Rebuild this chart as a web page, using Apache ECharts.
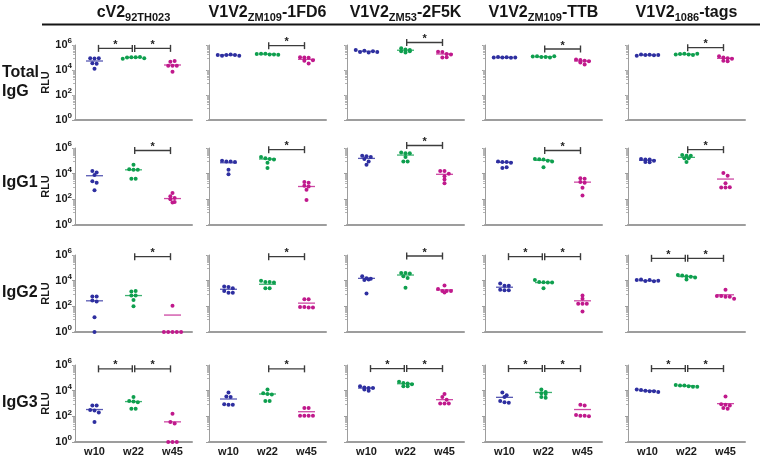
<!DOCTYPE html>
<html><head><meta charset="utf-8">
<script src="https://cdn.jsdelivr.net/npm/echarts@6/dist/echarts.min.js"></script>
<style>html,body{margin:0;padding:0;background:#fff}#c{width:760px;height:457px}</style>
</head><body><div id="c"></div>
<script>
// ---------- categories / labels ----------
const weeks = ['w10', 'w22', 'w45'];
const isotypes = ['Total\nIgG', 'IgG1', 'IgG2', 'IgG3'];
const antigenMain = ['cV2', 'V1V2', 'V1V2', 'V1V2', 'V1V2'];
const antigenSub = ['92TH023', 'ZM109', 'ZM53', 'ZM109', '1086'];
const antigenSuffix = ['', '-1FD6', '-2F5K', '-TTB', '-tags'];
const yTickExponents = [0, 2, 4, 6];

// ---------- values: log10(RLU) per animal, [w10, w22, w45] ----------
// Total IgG
const totIgG_cV2  = [[4.95,4.93,4.95,4.55,4.5,4.1],[4.9,5.0,5.02,5.03,5.05,4.95],[4.67,4.72,4.35,4.35,4.35,3.87]];
const totIgG_1FD6 = [[5.2,5.15,5.2,5.25,5.2,5.15],[5.28,5.3,5.3,5.25,5.25,5.22],[5.02,5.0,4.98,4.78,4.75,4.53]];
const totIgG_2F5K = [[5.6,5.45,5.55,5.4,5.5,5.45],[5.75,5.5,5.65,5.4,5.6,5.5],[5.47,5.45,5.28,5.25,5.0,5.02]];
const totIgG_TTB  = [[5.0,5.05,5.0,5.02,4.98,5.0],[5.08,5.1,5.05,5.05,5.0,5.1],[4.85,4.8,4.75,4.7,4.6,4.45]];
const totIgG_tags = [[5.15,5.25,5.2,5.22,5.18,5.2],[5.25,5.28,5.3,5.25,5.2,5.3],[5.1,5.0,4.95,4.9,4.75,4.7]];
// IgG1
const igg1_cV2  = [[4.2,4.1,3.9,3.4,3.3,2.7],[4.7,4.35,4.3,4.3,3.6,3.6],[2.5,2.25,2.1,2.0,1.75,1.8]];
const igg1_1FD6 = [[5.0,4.95,4.95,4.9,4.3,3.95],[5.3,5.2,5.15,5.1,4.85,4.45],[3.35,3.3,3.05,3.0,2.75,1.95]];
const igg1_2F5K = [[5.4,5.35,5.3,5.15,4.95,4.7],[5.65,5.6,5.6,5.3,4.95,4.95],[4.2,4.2,4.0,3.8,3.55,3.25]];
const igg1_TTB  = [[4.95,4.9,4.9,4.85,4.45,4.5],[5.15,5.12,5.1,5.0,4.95,4.5],[3.65,3.6,3.35,3.3,2.9,2.3]];
const igg1_tags = [[5.15,5.1,5.1,5.0,4.9,4.88],[5.45,5.4,5.4,5.2,5.2,4.9],[4.05,3.84,3.26,2.92,2.92,2.95]];
// IgG2
const igg2_cV2  = [[2.77,2.77,2.45,2.38,1.14,0],[3.15,3.2,2.84,2.84,2.5,2.0],[2.04,0,0,0,0,0]];
const igg2_1FD6 = [[3.55,3.5,3.4,3.2,3.05,3.05],[4.0,3.9,3.9,3.85,3.4,3.4],[2.55,2.55,1.95,1.95,1.9,1.9]];
const igg2_2F5K = [[4.35,4.18,4.15,4.05,4.1,3.0],[4.6,4.6,4.55,4.35,4.2,3.45],[3.62,3.35,3.2,3.2,3.2,3.07]];
const igg2_TTB  = [[3.78,3.6,3.6,3.3,3.25,3.25],[4.06,3.9,3.88,3.86,3.85,3.4],[2.85,2.6,2.2,2.2,2.2,1.6]];
const igg2_tags = [[4.05,4.1,3.98,4.05,3.95,4.0],[4.45,4.4,4.35,4.3,4.1,4.25],[3.3,2.8,2.8,2.75,2.75,2.6]];
// IgG3
const igg3_cV2  = [[2.85,2.85,2.5,2.45,2.3,1.55],[3.5,3.2,3.15,3.1,2.6,2.6],[2.2,1.55,1.45,0,0,0]];
const igg3_1FD6 = [[3.85,3.55,3.5,2.95,2.9,2.9],[4.1,3.8,3.75,3.7,3.2,3.2],[2.65,2.65,2.05,2.05,2.05,2.05]];
const igg3_2F5K = [[4.35,4.25,4.2,4.2,4.1,4.0],[4.7,4.6,4.55,4.5,4.35,4.35],[3.75,3.5,3.3,3.0,3.0,3.0]];
const igg3_TTB  = [[3.85,3.65,3.5,3.2,3.1,3.05],[4.1,3.9,3.8,3.75,3.5,3.45],[2.9,2.85,2.1,2.05,2.05,2.0]];
const igg3_tags = [[4.1,4.05,4.0,3.95,3.95,3.9],[4.45,4.4,4.4,4.35,4.3,4.3],[3.55,2.95,2.9,2.85,2.65,2.6]];

// ---------- group mean lines, log10(RLU), [w10, w22, w45] ----------
const meanTot  = [[4.72,5.0,4.4],[5.2,5.27,4.85],[5.5,5.58,5.28],[5.0,5.06,4.72],[5.2,5.26,4.93]];
const meanIgG1 = [[3.84,4.3,2.06],[4.85,5.14,3.0],[5.19,5.45,3.95],[4.88,5.04,3.34],[5.04,5.27,3.58]];
const meanIgG2 = [[2.43,2.84,1.32],[3.33,3.72,2.25],[4.18,4.44,3.28],[3.49,3.85,2.43],[4.0,4.32,2.9]];
const meanIgG3 = [[2.53,3.15,1.57],[3.35,3.74,2.36],[4.2,4.54,3.3],[3.48,3.86,2.53],[4.0,4.38,2.99]];

// ---------- significance (p<0.05) comparisons: [fromWeek, toWeek] ----------
const sigTot  = [[[0,1],[1,2]], [[1,2]], [[1,2]], [[1,2]], [[1,2]]];
const sigIgG1 = [[[1,2]], [[1,2]], [[1,2]], [[1,2]], [[1,2]]];
const sigIgG2 = [[[1,2]], [[1,2]], [[1,2]], [[0,1],[1,2]], [[0,1],[1,2]]];
const sigIgG3 = [[[0,1],[1,2]], [[1,2]], [[0,1],[1,2]], [[0,1],[1,2]], [[0,1],[1,2]]];
// bracket height, log10(RLU)
const sigLevelTot  = [5.73, 5.95, 6.2, 5.68, 5.79];
const sigLevelIgG1 = [5.8, 5.87, 6.2, 5.8, 5.87];
const sigLevelIgG2 = [5.87, 5.87, 5.92, 5.87, 5.74];
const sigLevelIgG3 = [5.7, 5.7, 5.72, 5.72, 5.72];

// ---------- assemble ----------
const panelValues = [
  [totIgG_cV2, totIgG_1FD6, totIgG_2F5K, totIgG_TTB, totIgG_tags],
  [igg1_cV2, igg1_1FD6, igg1_2F5K, igg1_TTB, igg1_tags],
  [igg2_cV2, igg2_1FD6, igg2_2F5K, igg2_TTB, igg2_tags],
  [igg3_cV2, igg3_1FD6, igg3_2F5K, igg3_TTB, igg3_tags]
];
const panelMeans = [meanTot, meanIgG1, meanIgG2, meanIgG3];
const panelSig = [sigTot, sigIgG1, sigIgG2, sigIgG3];
const panelSigLevel = [sigLevelTot, sigLevelIgG1, sigLevelIgG2, sigLevelIgG3];

// ---------- layout & style ----------
const FONT = '"Liberation Sans", Arial, sans-serif';
const groupColors = ['#2E2FA0', '#0E9F4E', '#C0198C'];
const colLeft = [75, 209, 347, 485, 628];
const colWidth = 117;
const rowTop = [45, 148, 255, 365];
const rowBottom = [120, 225, 332, 443];
const rowLabelY = [82, 183, 293, 403];
const AXIS_GRAY = '#9d9d9d';
const DOT_R = 2.0, DOT_SPACING = 4.3, ROW_SPAN = 3, MEAN_HALF = 8.5;

const pow10 = e => Math.pow(10, e);

function makeDotRenderer(vals) {
  return function (params, api) {
    const g = params.dataIndex;
    const arr = vals[g];
    const color = groupColors[g];
    const cx = api.coord([g, 1])[0];
    const pts = arr.map((v, k) => ({ k: k, y: api.coord([g, pow10(v)])[1] }));
    const sorted = pts.slice().sort((a, b) => a.y - b.y);
    const clusters = [];
    let cur = [sorted[0]];
    for (let i = 1; i < sorted.length; i++) {
      if (sorted[i].y - cur[0].y <= ROW_SPAN) cur.push(sorted[i]);
      else { clusters.push(cur); cur = [sorted[i]]; }
    }
    clusters.push(cur);
    const children = [];
    const my = api.coord([g, api.value(1)])[1];
    children.push({ type: 'line', shape: { x1: cx - MEAN_HALF, y1: my, x2: cx + MEAN_HALF, y2: my },
      style: { stroke: color, lineWidth: 1.3, opacity: 0.8 } });
    clusters.forEach(cl => {
      cl.sort((a, b) => a.k - b.k);
      cl.forEach((p, i) => {
        children.push({ type: 'circle', shape: { cx: cx + (i - (cl.length - 1) / 2) * DOT_SPACING, cy: p.y, r: DOT_R },
          style: { fill: color } });
      });
    });
    return { type: 'group', children: children };
  };
}

function bracketRenderer(params, api) {
  const a = api.value(0), b = api.value(1), h = api.value(2);
  const p1 = api.coord([a, h]), p2 = api.coord([b, h]);
  const x1 = p1[0] + (a === 0 ? 4 : 1.2);
  const x2 = p2[0] - (b === 2 ? 2 : 1.2);
  const y = p1[1];
  const st = { stroke: '#3c3c3c', lineWidth: 1.4 };
  return { type: 'group', children: [
    { type: 'line', shape: { x1: x1, y1: y, x2: x2, y2: y }, style: st },
    { type: 'line', shape: { x1: x1, y1: y - 3.5, x2: x1, y2: y + 3.5 }, style: st },
    { type: 'line', shape: { x1: x2, y1: y - 3.5, x2: x2, y2: y + 3.5 }, style: st },
    { type: 'text', x: (x1 + x2) / 2, y: y - 3.5,
      style: { text: '*', fill: '#222', font: 'bold 11px ' + FONT, align: 'center', verticalAlign: 'middle' } }
  ] };
}

const grids = [], xAxes = [], yAxes = [], series = [];
for (let r = 0; r < 4; r++) {
  for (let c = 0; c < 5; c++) {
    const i = r * 5 + c;
    grids.push({ left: colLeft[c], top: rowTop[r], width: colWidth, height: rowBottom[r] - rowTop[r] });
    xAxes.push({
      gridIndex: i, type: 'category', data: weeks, boundaryGap: true,
      axisLine: { show: true, lineStyle: { color: AXIS_GRAY, width: 2 } },
      axisTick: { show: false },
      axisLabel: { show: r === 3, fontFamily: FONT, fontWeight: 'bold', fontSize: 11, color: '#1a1a1a', margin: 4 },
      splitLine: { show: false }
    });
    yAxes.push({
      gridIndex: i, type: 'log', logBase: 10, min: pow10(yTickExponents[0]), max: pow10(yTickExponents[yTickExponents.length - 1]),
      interval: 2,
      axisLine: { show: true, lineStyle: { color: AXIS_GRAY, width: 1 } },
      axisTick: { show: true, length: 3, lineStyle: { color: AXIS_GRAY } },
      minorTick: { show: true, splitNumber: 12, length: 2, lineStyle: { color: '#b5b5b5' } },
      splitLine: { show: false }, minorSplitLine: { show: false },
      axisLabel: {
        show: c === 0, margin: 3,
        formatter: v => '{b|10}{s|' + Math.round(Math.log10(v)) + '}',
        rich: {
          b: { fontFamily: FONT, fontWeight: 'bold', fontSize: 11, color: '#1a1a1a', lineHeight: 16 },
          s: { fontFamily: FONT, fontWeight: 'bold', fontSize: 8, color: '#1a1a1a', lineHeight: 8, verticalAlign: 'top' }
        }
      },
      name: c === 0 ? 'RLU' : '', nameLocation: 'middle', nameGap: 17, nameRotate: 90,
      nameTextStyle: { fontFamily: FONT, fontWeight: 'bold', fontSize: 11, color: '#1a1a1a' }
    });
    const vals = panelValues[r][c];
    series.push({
      type: 'custom', xAxisIndex: i, yAxisIndex: i,
      data: panelMeans[r][c].map((m, g) => [g, pow10(m)]),
      encode: { x: 0, y: 1 },
      renderItem: makeDotRenderer(vals), animation: false, silent: true, clip: false
    });
    series.push({
      type: 'custom', xAxisIndex: i, yAxisIndex: i,
      data: panelSig[r][c].map(s => [s[0], s[1], pow10(panelSigLevel[r][c])]),
      encode: { x: [0, 1], y: 2 },
      renderItem: bracketRenderer, animation: false, silent: true, clip: false
    });
  }
}

const graphics = [
  { type: 'line', shape: { x1: 42, y1: 24.5, x2: 760, y2: 24.5 }, style: { stroke: '#151515', lineWidth: 2 } }
];
for (let c = 0; c < 5; c++) {
  graphics.push({
    type: 'text', x: colLeft[c] + colWidth / 2, y: 13,
    style: {
      text: '{m|' + antigenMain[c] + '}{s|' + antigenSub[c] + '}' + (antigenSuffix[c] ? '{m|' + antigenSuffix[c] + '}' : ''),
      align: 'center', verticalAlign: 'middle', fill: '#151515',
      rich: {
        m: { fontFamily: FONT, fontWeight: 'bold', fontSize: 16, lineHeight: 20, fill: '#151515' },
        s: { fontFamily: FONT, fontWeight: 'bold', fontSize: 11, lineHeight: 11, verticalAlign: 'bottom', fill: '#151515' }
      }
    }
  });
}
for (let r = 0; r < 4; r++) {
  graphics.push({
    type: 'text', x: 2, y: rowLabelY[r],
    style: { text: isotypes[r], font: 'bold 16px ' + FONT, lineHeight: 19, fill: '#151515', align: 'left', verticalAlign: 'middle' }
  });
}

const chart = echarts.init(document.getElementById('c'), null, { renderer: 'canvas' });
chart.setOption({
  animation: false, backgroundColor: '#ffffff',
  grid: grids, xAxis: xAxes, yAxis: yAxes, series: series, graphic: graphics
});
</script></body></html>
